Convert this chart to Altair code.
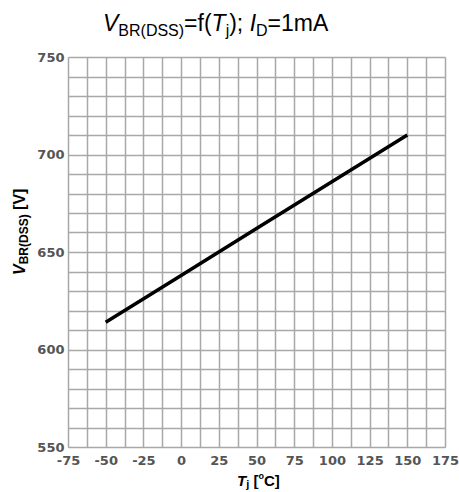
import altair as alt
import pandas as pd

# data
tj = [-50, 0, 50, 100, 150]
vbr = [614, 638, 662, 686, 710]
x_ticks = [-75, -50, -25, 0, 25, 50, 75, 100, 125, 150, 175]
y_ticks = [550, 600, 650, 700, 750]
x_grid = [-75 + 12.5 * i for i in range(21)]
y_grid = [550 + 10 * i for i in range(21)]

FONT = "Liberation Sans"
LFONT = "DejaVu Sans"
W = 377
H = 390

# Arial / Liberation Sans advance widths (per 1000 em)
REG = {" ": 278, "(": 333, ")": 333, ";": 278, "=": 584, "1": 556, "A": 667, "B": 667,
       "D": 722, "I": 278, "R": 722, "S": 667, "T": 611, "V": 667, "f": 278, "j": 222,
       "m": 833, "[": 278, "]": 278, "C": 722, "o": 556}
BOLD = {" ": 278, "(": 333, ")": 333, "B": 722, "D": 722, "R": 722, "S": 667, "T": 611,
        "V": 667, "j": 278, "[": 333, "]": 333, "C": 722, "o": 611}


def width(text, size, bold):
    tbl = BOLD if bold else REG
    return sum(tbl[c] for c in text) * size / 1000.0


def rich(segments, x, y, angle=0, bold=False, color="black"):
    layers = []
    off = 0.0
    for text, size, italic, shift in segments:
        stripped = text.lstrip(" ")
        lead = width(" " * (len(text) - len(stripped)), size, bold)
        df = pd.DataFrame({"t": [stripped]})
        kw = dict(font=FONT, fontSize=size, fontWeight="bold" if bold else "normal",
                  fontStyle="italic" if italic else "normal", align="left",
                  baseline="alphabetic", dx=off + lead, dy=shift, color=color)
        if angle:
            kw["angle"] = angle
        layers.append(
            alt.Chart(df).mark_text(**kw).encode(
                x=alt.value(x), y=alt.value(y), text="t:N")
        )
        off += width(text, size, bold)
    return layers


title_segs = [("V", 23, True, 0), ("BR(DSS)", 16, False, 5), ("=f(", 23, False, 0),
              ("T", 23, True, 0), ("j", 16, False, 5), ("); ", 23, False, 0),
              ("I", 23, True, 0), ("D", 16, False, 5), ("=1mA", 23, False, 0)]
ytitle_segs = [("V", 16, True, 0), ("BR(DSS)", 12, False, 3), (" [V]", 16, False, 0)]
xtitle_segs = [("T", 15, True, 0), ("j", 11, False, 2), (" [", 15, False, 0),
               ("o", 9, False, -7), ("C]", 15, False, 0)]

df = pd.DataFrame({"tj": tj, "vbr": vbr})

common = dict(grid=True, ticks=False, domain=False, labelFont=LFONT, labelFontSize=13,
              labelFontWeight="bold", labelColor="#555555", title=None,
              gridColor="#a8a8a8", gridWidth=1.5, labelFlush=False, labelOverlap=False)

line = alt.Chart(df).mark_line(color="black", strokeWidth=3.5).encode(
    x=alt.X("tj:Q", scale=alt.Scale(domain=[-75, 175], nice=False),
            axis=alt.Axis(values=x_grid,
                          labelExpr="datum.value % 25 == 0 ? '' + datum.value : ''",
                          labelPadding=7, **common)),
    y=alt.Y("vbr:Q", scale=alt.Scale(domain=[550, 750], nice=False),
            axis=alt.Axis(values=y_grid,
                          labelExpr="datum.value % 50 == 0 ? '' + datum.value : ''",
                          labelPadding=4, **common)),
)

layers = [line]
layers += rich(title_segs, 35, -26)
layers += rich(ytitle_segs, -43, 218, angle=270, bold=True)
layers += rich(xtitle_segs, 169, 429, bold=True)

chart = alt.layer(*layers).properties(
    width=W, height=H,
    autosize=alt.AutoSizeParams(type="none"),
    padding={"left": 68, "top": 57, "right": 14, "bottom": 45},
).configure_view(stroke="#a8a8a8", strokeWidth=1.5).configure(background="white")

chart.save("out.html", embed_options={"renderer": "svg", "actions": False})
